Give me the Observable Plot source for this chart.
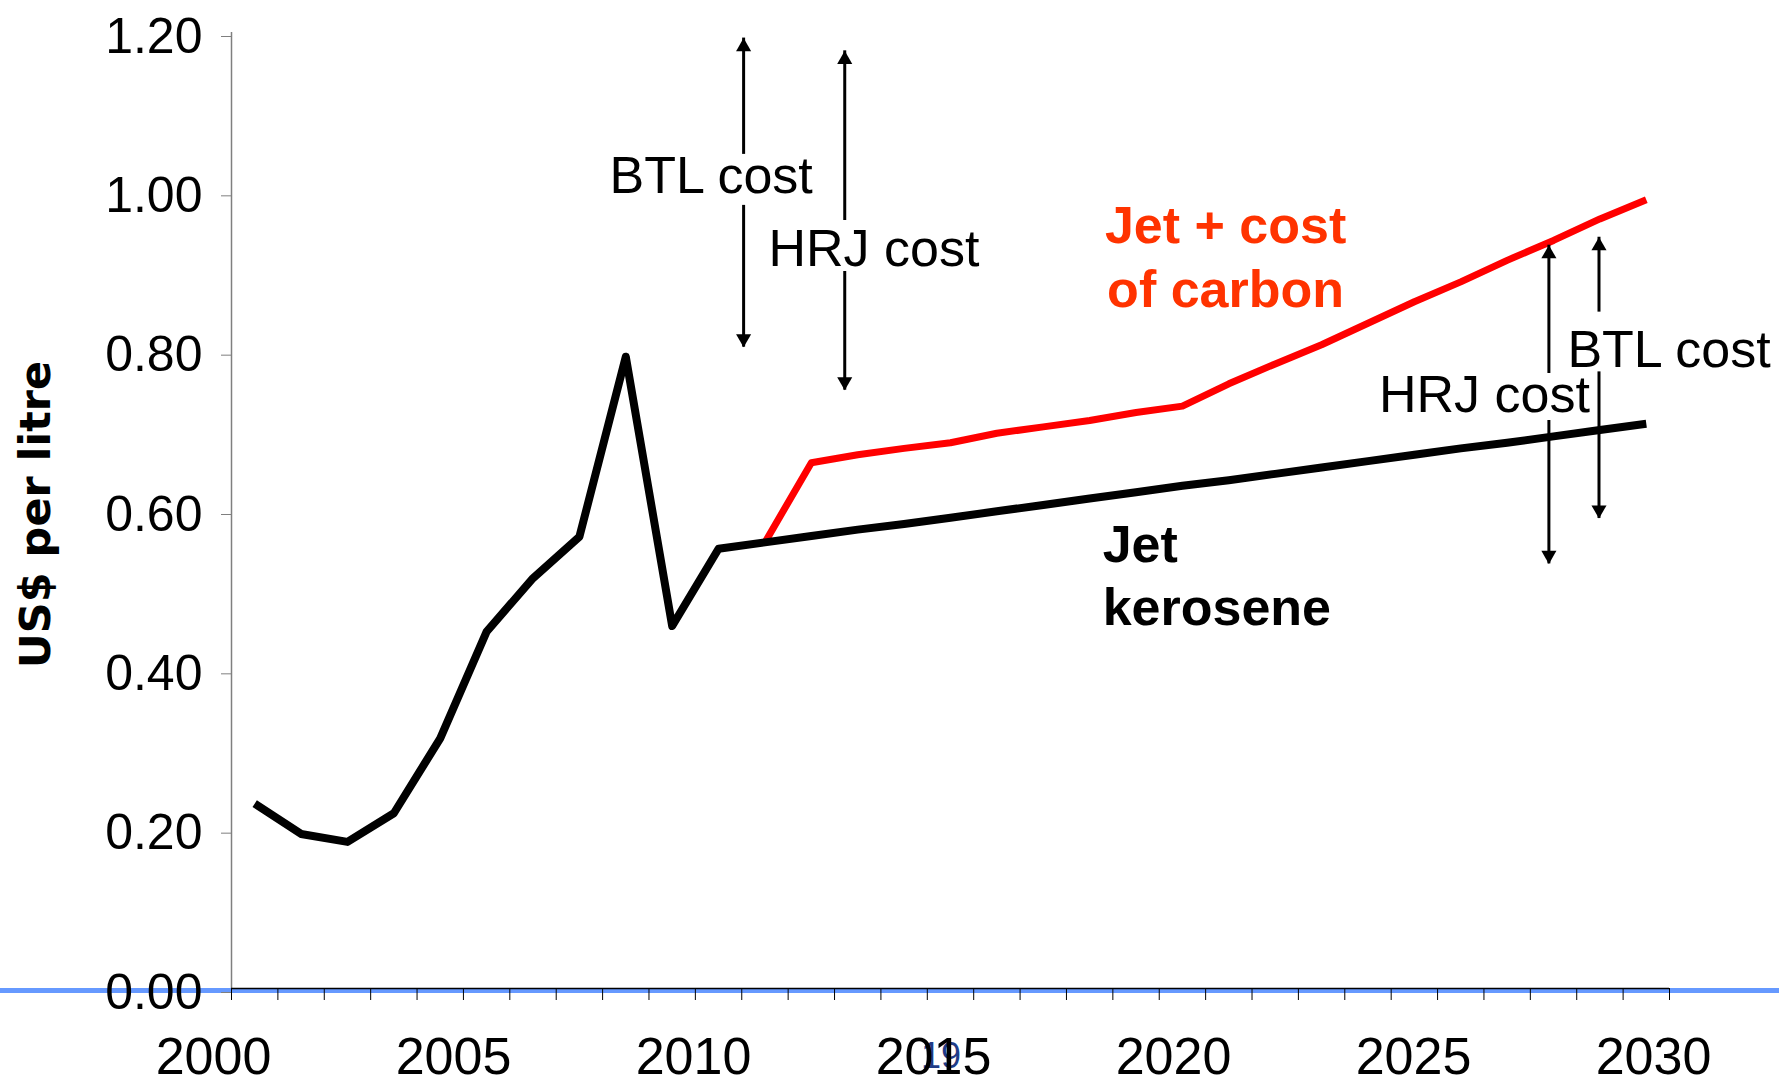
<!DOCTYPE html>
<html>
<head>
<meta charset="utf-8">
<script src="https://cdn.jsdelivr.net/npm/d3@7"></script>
<script src="https://cdn.jsdelivr.net/npm/@observablehq/plot@0.6"></script>
<style>
  html, body { margin: 0; padding: 0; background: #ffffff; }
  #wrap { position: relative; width: 1779px; height: 1078px; overflow: hidden; font-family: "Liberation Sans", Arial, sans-serif; }
  #wrap svg { position: absolute; left: 0; top: 0; overflow: visible; background: transparent; }
  #band { position: absolute; left: 0; top: 988px; width: 1779px; height: 5px; background: #6699ff; }
  #pg { position: absolute; left: 921px; top: 1038px; font-family: "Liberation Sans Narrow", "Arial Narrow", "Liberation Sans", sans-serif; font-size: 36px; line-height: 36px; color: #1f3c88; }
</style>
</head>
<body>
<div id="wrap">
  <div id="band"></div>
  <div id="pg">19</div>
</div>
<script>
// ---- data ----
const years = [2000, 2001, 2002, 2003, 2004, 2005, 2006, 2007, 2008, 2009, 2010,
               2011, 2012, 2013, 2014, 2015, 2016, 2017, 2018, 2019, 2020,
               2021, 2022, 2023, 2024, 2025, 2026, 2027, 2028, 2029, 2030];
const jetKerosene = [0.232, 0.194, 0.184, 0.220, 0.314, 0.448, 0.515, 0.567, 0.793, 0.455, 0.552,
                     0.560, 0.568, 0.576, 0.583, 0.591, 0.599, 0.607, 0.615, 0.623, 0.631,
                     0.638, 0.646, 0.654, 0.662, 0.670, 0.678, 0.685, 0.693, 0.701, 0.709];
const carbonYears = [2011, 2012, 2013, 2014, 2015, 2016, 2017, 2018, 2019, 2020,
                     2021, 2022, 2023, 2024, 2025, 2026, 2027, 2028, 2029, 2030];
const jetCarbon = [0.560, 0.660, 0.670, 0.678, 0.685, 0.697, 0.705, 0.713, 0.723, 0.731,
                   0.759, 0.784, 0.808, 0.835, 0.862, 0.887, 0.914, 0.939, 0.966, 0.990];

const yTicks = [0, 0.2, 0.4, 0.6, 0.8, 1.0, 1.2];
const yearLabels = [2000, 2005, 2010, 2015, 2020, 2025, 2030];
const yTitle = "US$ per litre";

// cost-range annotations (double arrows)
const arrowLabels    = ["BTL cost", "HRJ cost", "HRJ cost", "BTL cost"];
const arrowX         = [2010.54, 2012.72, 2027.90, 2028.98];
const arrowTipTop    = [1.193, 1.177, 0.933, 0.943];
const arrowTipBottom = [0.805, 0.751, 0.533, 0.590];
const arrowGapTop    = [1.047, 0.964, 0.772, 0.849];
const arrowGapBottom = [0.983, 0.900, 0.713, 0.774];
const arrowLabelX    = [2009.84, 2013.35, 2026.51, 2030.49];
const arrowLabelY    = [1.019, 0.928, 0.744, 0.801];

// series labels
const carbonLabel = "Jet + cost\nof carbon";
const keroseneLabel = "Jet\nkerosene";
const carbonLabelPos = {x: 2020.93, y: 0.921};
const keroseneLabelPos = {x: 2018.28, y: 0.521};

// ---- tables ----
const kerosene = years.map((year, i) => ({year, value: jetKerosene[i]}));
const carbon = carbonYears.map((year, i) => ({year, value: jetCarbon[i]}));
const arrows = arrowX.map((x, i) => ({
  x, top: arrowTipTop[i], bottom: arrowTipBottom[i],
  gapTop: arrowGapTop[i], gapBottom: arrowGapBottom[i],
  label: arrowLabels[i], lx: arrowLabelX[i], ly: arrowLabelY[i]
}));
const xDomain = [years[0] - 0.5, years[years.length - 1] + 0.5];
const boundaries = years.map(y => y - 0.5).concat([years[years.length - 1] + 0.5]);

const W = 1779, H = 1078;
const font = "'Liberation Sans', Arial, Helvetica, sans-serif";

const main = Plot.plot({
  width: W, height: H,
  marginLeft: 231, marginRight: 110, marginTop: 32, marginBottom: 90,
  x: {domain: xDomain},
  y: {domain: [0, 1.2]},
  style: {fontFamily: font, background: "transparent", overflow: "visible", color: "black"},
  marks: [
    // y axis line
    Plot.ruleX([xDomain[0]], {y1: 0, y2: 1.2, stroke: "#7f7f7f", strokeWidth: 1.5}),
    Plot.axisY(yTicks, {tickSize: 10, tickPadding: 19, tickFormat: d3.format(".2f"),
                        fontSize: 50, stroke: "#7f7f7f", fill: "black", dy: 4, label: null}),
    // x axis line + category ticks
    Plot.ruleY([0], {stroke: "black", strokeWidth: 1.6}),
    Plot.axisX(boundaries, {tickSize: 12, tickFormat: () => "", stroke: "black", label: null}),
    // y title
    Plot.text([yTitle], {frameAnchor: "left", textAnchor: "middle", dx: -195, dy: 4, rotate: -90,
                         fontSize: 43, fontWeight: "bold", fontFamily: "'DejaVu Sans', sans-serif", fill: "black"}),
    // series
    Plot.line(carbon, {x: "year", y: "value", stroke: "#ff0000", strokeWidth: 7,
                       strokeLinecap: "butt", strokeLinejoin: "round"}),
    Plot.line(kerosene, {x: "year", y: "value", stroke: "black", strokeWidth: 8,
                         strokeLinecap: "butt", strokeLinejoin: "round"}),
    // double arrows
    Plot.ruleX(arrows, {x: "x", y1: "gapTop", y2: "top", stroke: "black", strokeWidth: 3}),
    Plot.ruleX(arrows, {x: "x", y1: "bottom", y2: "gapBottom", stroke: "black", strokeWidth: 3}),
    Plot.dot(arrows, {x: "x", y: "top", symbol: "triangle", r: 5.6, fill: "black", stroke: null, dy: 8.7}),
    Plot.dot(arrows, {x: "x", y: "bottom", symbol: "triangle", r: 5.6, fill: "black", stroke: null, rotate: 180, dy: -8.7}),
    Plot.text(arrows, {x: "lx", y: "ly", text: "label", fontSize: 52, fill: "black"}),
    // series labels
    Plot.text([carbonLabel], {x: () => carbonLabelPos.x, y: () => carbonLabelPos.y, fontSize: 52, fontWeight: "bold",
                              lineHeight: 1.22, fill: "#ff3300", textAnchor: "middle"}),
    Plot.text([keroseneLabel], {x: () => keroseneLabelPos.x, y: () => keroseneLabelPos.y, fontSize: 52, fontWeight: "bold",
                                lineHeight: 1.22, fill: "black", textAnchor: "start"})
  ]
});

// year labels sit on their own scale (as in the original slide)
const labels = Plot.plot({
  width: W, height: H,
  marginLeft: 213, marginRight: 126, marginTop: 32, marginBottom: 90,
  x: {domain: [yearLabels[0], yearLabels[yearLabels.length - 1]]},
  style: {fontFamily: font, background: "transparent", overflow: "visible", color: "black"},
  marks: [
    Plot.axisX(yearLabels, {tickSize: 0, tickPadding: 49, fontSize: 52, tickFormat: d3.format("d"), label: null})
  ]
});

const wrap = document.getElementById("wrap");
wrap.insertBefore(main, document.getElementById("pg"));
wrap.appendChild(labels);
</script>
</body>
</html>
